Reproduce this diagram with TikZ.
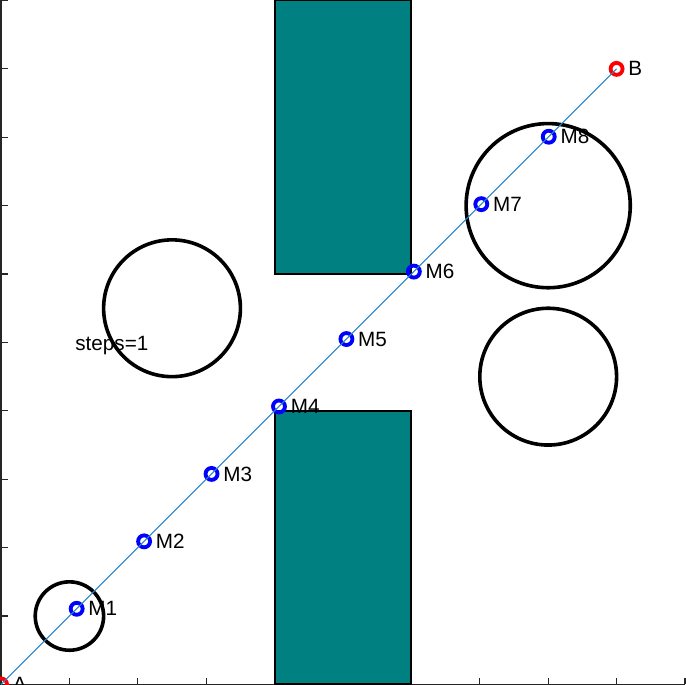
\documentclass[tikz,border=0pt]{standalone}
\usepackage{fontspec}
\setmainfont{Liberation Sans}
\definecolor{obstacleteal}{RGB}{0,128,128}
\definecolor{trailblue}{RGB}{40,130,200}
\usetikzlibrary{positioning}

\begin{document}
\begin{tikzpicture}[
    x=1cm, y=1cm,
    obstacle/.style={draw=black, line width=0.8pt, fill=obstacleteal},
    zone/.style={draw=black, line width=1.5pt},
    waypoint/.style={circle, draw=blue, line width=1.6pt, inner sep=0pt, minimum size=0.175cm},
    endpoint/.style={waypoint, draw=red},
    tag/.style={font=\fontsize{8.6}{10}\selectfont, inner sep=0pt, anchor=west},
    trail/.style={draw=trailblue, line width=0.45pt},
    axisline/.style={line width=0.5pt, black!85},
]
    \useasboundingbox (-0.015,-0.008) rectangle (10.015,10.007);

    \draw[axisline] (0,10) -- (0,0) -- (10,0);
    \foreach \k in {1,...,10} {
        \draw[axisline] (0,\k) -- (0.1,\k);
        \draw[axisline] (\k,0) -- (\k,0.1);
    }

    \draw[obstacle] (4,6) rectangle (6,10);
    \draw[obstacle] (4,0) rectangle (6,4);
    \draw[zone] (2.5,5.5) circle (1);
    \draw[zone] (8,7) circle (1.2);
    \draw[zone] (8,4.5) circle (1);
    \draw[zone] (1,1) circle (0.5);

    \node[endpoint] (a) at (0,0) {};
    \node[endpoint] (b) at (9,9) {};
    \node[waypoint] (m1) at (1.106,1.106) {};
    \node[waypoint] (m2) at (2.092,2.092) {};
    \node[waypoint] (m3) at (3.078,3.078) {};
    \node[waypoint] (m4) at (4.064,4.064) {};
    \node[waypoint] (m5) at (5.050,5.050) {};
    \node[waypoint] (m6) at (6.036,6.036) {};
    \node[waypoint] (m7) at (7.022,7.022) {};
    \node[waypoint] (m8) at (8.008,8.008) {};

    \draw[trail] (a.center) -- (b.center);

    \node[tag, right=0.05cm of a] (ta) {A};
    \node[tag, right=0.05cm of b] (tb) {B};
    \node[tag, right=0.05cm of m1] (t1) {M1};
    \node[tag, right=0.05cm of m2] (t2) {M2};
    \node[tag, right=0.05cm of m3] (t3) {M3};
    \node[tag, right=0.05cm of m4] (t4) {M4};
    \node[tag, right=0.05cm of m5] (t5) {M5};
    \node[tag, right=0.05cm of m6] (t6) {M6};
    \node[tag, right=0.05cm of m7] (t7) {M7};
    \node[tag, right=0.05cm of m8] (t8) {M8};
    \node[tag] (steps) at (1.08,4.96) {steps=1};
\end{tikzpicture}
\end{document}
